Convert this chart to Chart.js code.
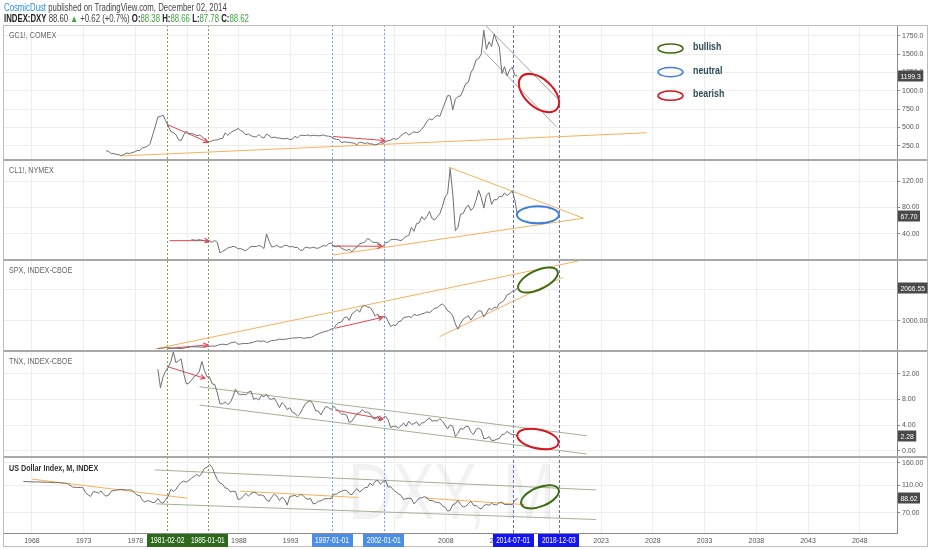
<!DOCTYPE html>
<html>
<head>
<meta charset="utf-8">
<script src="https://cdn.jsdelivr.net/npm/chart.js@4.4.1/dist/chart.umd.min.js"></script>
<style>
  body { margin: 0; background: #fff; }
  #wrap { position: relative; width: 932px; height: 550px; overflow: hidden; }
  #chart { position: absolute; left: 0; top: 0; }
  .hdr { position: absolute; left: 4px; font-family: 'Liberation Sans', Arial, sans-serif;
         font-size: 10px; color: #444; white-space: nowrap; line-height: 11px;
         transform: scaleX(0.78); transform-origin: 0 0; }
  .hdr b { color: #222; }
  .g { color: #3fa53f; }
</style>
</head>
<body>
<div id="wrap">
  <canvas id="chart" width="932" height="550"></canvas>
  <div class="hdr" style="top:2px"><span style="color:#2b8fd8">CosmicDust</span> published on TradingView.com, December 02, 2014</div>
  <div class="hdr" style="top:13px"><b>INDEX:DXY</b> 88.60 <span class="g">&#9650;</span> +0.62 (+0.7%) <b>O:</b><span class="g">88.38</span> <b>H:</b><span class="g">88.66</span> <b>L:</b><span class="g">87.78</span> <b>C:</b><span class="g">88.62</span></div>
</div>
<script>
const FONT = "'Liberation Sans',Arial,sans-serif";

// x axis tick years
const yearTicks = [1968, 1973, 1978, 1983, 1988, 1993, 1998, 2003, 2008, 2013, 2018, 2023, 2028, 2033, 2038, 2043, 2048];

// y tick values per pane
const goldTicks = [250, 500, 750, 1000, 1250, 1500, 1750];
const oilTicks = [40, 80, 120];
const spxTicks = [1000, 2000];
const tnxTicks = [0, 4, 8, 12];
const dxyTicks = [70, 110, 160];

// quarterly closes, first value at the given year (quarter end)
const goldStart = 1975.17;
const goldQ = [180, 168, 142, 140, 131, 124, 112, 134, 148, 142, 154, 165, 181, 184, 218, 226,
  241, 278, 397, 512, 640, 650, 666, 590, 520, 440, 428, 398, 330, 318, 397, 450,
  414, 416, 405, 385, 394, 375, 343, 309, 300, 317, 326, 327, 345, 346, 424, 391,
  421, 448, 459, 484, 457, 437, 396, 410, 384, 373, 367, 401, 368, 352, 408, 386,
  356, 367, 354, 353, 344, 343, 349, 333, 337, 378, 355, 391, 390, 388, 395, 383,
  391, 387, 384, 387, 396, 382, 379, 369, 348, 334, 332, 290, 301, 296, 294, 288,
  280, 262, 299, 290, 279, 288, 273, 272, 258, 270, 293, 279, 302, 318, 324, 348,
  336, 346, 388, 417, 427, 395, 416, 438, 428, 437, 473, 518, 582, 616, 599, 636,
  663, 651, 743, 838, 933, 930, 740, 884, 922, 927, 1008, 1097, 1115, 1245, 1308, 1421,
  1439, 1502, 1825, 1566, 1668, 1604, 1776, 1675, 1596, 1234, 1328, 1202, 1284, 1322, 1210, 1199.3];

const oilStart = 1983.42;
const oilQ = [31.0, 30.0, 29.8, 30.8, 29.9, 29.5, 26.5, 28.0, 27.0, 29.5, 26.3,
  10.4, 12.8, 14.9, 17.9, 18.8, 20.4, 19.5, 16.7, 17.0, 15.2, 13.7, 17.2,
  20.3, 20.3, 20.1, 21.8, 20.4, 17.1, 39.5, 28.4, 19.6, 20.1, 22.2, 19.1,
  19.3, 22.0, 21.7, 19.5, 20.3, 18.7, 18.8, 14.2, 14.7, 19.4, 18.4, 17.8,
  19.2, 17.9, 17.5, 19.6, 21.5, 20.9, 24.4, 25.9, 20.4, 19.8, 21.2, 17.6,
  15.6, 14.2, 16.1, 12.1, 16.8, 19.3, 24.5, 25.6, 26.9, 32.5, 30.8, 26.8,
  26.3, 26.2, 23.4, 19.8, 26.3, 26.9, 30.5, 31.2, 31.0, 30.2, 29.2, 32.5,
  35.8, 37.0, 49.6, 43.5, 55.4, 56.5, 66.2, 61.0, 66.6, 74.0, 62.9, 61.0,
  65.9, 70.7, 81.7, 96.0, 101.6, 140.0, 100.6, 44.6, 49.7, 69.9, 70.6, 79.4,
  83.8, 75.6, 79.9, 91.4, 106.7, 95.4, 79.2, 98.8, 103.0, 84.9, 92.2, 91.8,
  97.2, 96.6, 102.3, 98.4, 101.6, 105.4, 91.2, 67.70];

const spxStart = 1980.17;
const spxQ = [102, 114, 125, 136, 136, 131, 116, 122, 112, 110, 120, 140, 153, 168, 166, 165,
  159, 153, 166, 167, 181, 191, 182, 211, 238, 251, 231, 242, 291, 304, 321, 247,
  258, 273, 271, 277, 294, 317, 349, 353, 339, 358, 306, 330, 375, 371, 387, 417,
  403, 408, 417, 435, 451, 450, 458, 466, 445, 444, 462, 459, 500, 544, 584, 615,
  645, 670, 687, 740, 757, 885, 947, 970, 1101, 1133, 1017, 1229, 1286, 1372, 1282, 1469,
  1498, 1454, 1436, 1320, 1160, 1224, 1040, 1148, 1147, 989, 815, 879, 848, 975, 995, 1111,
  1126, 1140, 1114, 1211, 1180, 1191, 1228, 1248, 1294, 1270, 1335, 1418, 1420, 1503, 1549, 1468,
  1322, 1280, 1166, 903, 735, 919, 1057, 1115, 1169, 1030, 1141, 1257, 1325, 1320, 1131, 1257,
  1408, 1362, 1440, 1426, 1569, 1606, 1681, 1848, 1872, 1960, 1972, 2066.55];

const tnxStart = 1980.17;
const tnxQ = [12.7, 9.8, 11.5, 12.4, 13.0, 13.9, 15.4, 13.7, 14.0, 14.3, 12.0, 10.4,
  10.5, 11.0, 11.5, 11.8, 12.3, 13.9, 12.5, 11.5, 11.5, 10.4, 10.3, 9.0,
  7.3, 7.3, 7.6, 7.2, 7.5, 8.4, 9.6, 8.9, 8.7, 8.8, 8.7, 9.1, 9.3, 8.0, 8.2, 7.9,
  8.6, 8.4, 8.8, 8.1, 8.0, 8.2, 7.5, 6.7, 7.5, 7.1, 6.4, 6.7, 6.0, 5.8, 5.4, 5.8,
  6.6, 7.3, 7.6, 7.8, 7.2, 6.2, 6.2, 5.6, 6.3, 6.9, 6.7, 6.4, 6.9, 6.5, 6.1, 5.7,
  5.7, 5.5, 4.4, 4.6, 5.2, 5.8, 5.9, 6.4, 6.0, 6.0, 5.8, 5.1, 4.9, 5.4, 4.6, 5.1,
  5.4, 4.8, 3.6, 3.8, 3.8, 3.5, 3.9, 4.3, 3.8, 4.6, 4.1, 4.2, 4.5, 3.9, 4.3, 4.4,
  4.8, 5.1, 4.6, 4.7, 4.6, 5.0, 4.6, 4.0, 3.4, 4.0, 3.8, 2.2, 2.7, 3.5, 3.3, 3.8,
  3.8, 2.9, 2.5, 3.3, 3.5, 3.2, 1.9, 1.9, 2.2, 1.6, 1.6, 1.8, 1.9, 2.5, 2.6, 3.0,
  2.7, 2.5, 2.5, 2.28];

const dxyStart = 1967.17;
const dxyQ = [117.0, 117.2, 116.8, 116.6, 116.5, 116.3, 116.4, 116.0, 115.8, 116.0, 115.6, 115.3,
  115.0, 115.2, 114.8, 114.5, 114.0, 113.2, 110.5, 107.0, 106.5, 106.0, 106.5, 106.0,
  98.0, 94.0, 91.5, 99.0, 98.5, 96.8, 100.2, 95.0, 92.0, 93.5, 100.0, 101.0,
  101.5, 102.5, 103.0, 102.4, 101.8, 102.2, 101.5, 97.0, 93.5, 93.0, 86.0, 83.5,
  85.5, 84.6, 82.6, 83.4, 88.5, 83.5, 81.8, 86.5, 92.0, 103.0, 99.5, 103.0,
  110.0, 115.5, 118.0, 116.0, 119.5, 123.6, 127.3, 131.8, 127.7, 134.6, 145.6, 148.6,
  155.0, 148.4, 132.5, 120.8, 114.1, 112.1, 105.5, 104.4, 98.5, 99.9, 99.2, 87.0,
  88.1, 91.5, 96.6, 92.0, 96.0, 98.0, 97.0, 93.2, 94.0, 92.3, 86.3, 84.3,
  90.3, 95.4, 92.0, 85.6, 90.5, 87.0, 79.3, 91.6, 92.2, 93.3, 90.6, 94.7,
  93.3, 89.5, 87.4, 88.7, 81.1, 81.5, 84.5, 85.0, 87.5, 88.3, 88.3, 88.7,
  95.0, 94.8, 98.0, 99.6, 101.6, 101.1, 95.5, 94.2, 100.0, 104.2, 98.8, 101.9,
  105.9, 106.3, 114.3, 109.6, 117.6, 119.6, 112.0, 116.8, 119.5, 106.9, 107.6, 102.0,
  98.9, 95.5, 93.1, 86.9, 88.4, 88.8, 88.6, 80.9, 84.6, 89.1, 89.5, 91.2,
  89.9, 85.5, 85.7, 83.7, 82.9, 82.3, 78.4, 76.7, 71.8, 72.8, 79.9, 81.3,
  85.9, 80.2, 76.7, 77.9, 81.0, 84.8, 79.0, 79.0, 75.9, 74.3, 78.6, 80.2,
  79.1, 81.6, 79.9, 79.8, 82.9, 83.2, 80.2, 80.0, 80.1, 79.8, 86.0, 88.62];

// drawn lines: [year1, value1, year2, value2, kind]
const goldLines = [[1976.5, 108, 2027.4, 425, 'trend'], [1981.1, 536, 1985.0, 297, 'arrow'],
  [1997.1, 374, 2002.1, 319, 'arrow'], [2011.77, 1903, 2018.85, 881, 'grey'], [2011.6, 1548, 2018.7, 504, 'grey']];
const oilLines = [[1981.3, 29.2, 1985.1, 29.2, 'arrow'], [1997.1, 21, 2001.8, 20.5, 'arrow'],
  [2008.3, 142, 2021.3, 63.7, 'trend'], [1997.1, 7.2, 2021.3, 63.7, 'trend']];
const spxLines = [[1979.9, 97, 2020.8, 2935, 'trend'], [2007.4, 494, 2019.3, 2410, 'trend'],
  [1981.1, 110, 1985.0, 226, 'arrow'], [1997.3, 765, 2001.9, 1119, 'arrow']];
const tnxLines = [[1981.1, 13.09, 1984.7, 11.28, 'arrow'], [1997.3, 6.33, 2001.9, 4.93, 'arrow'],
  [1984.2, 9.96, 2021.6, 2.33, 'channel'], [1984.2, 7.11, 2021.6, -0.51, 'channel']];
const dxyLines = [[1968.0, 122, 1983.0, 89, 'trend'], [1988.1, 100, 1999.5, 90, 'trend'],
  [2006.0, 89, 2015.6, 80, 'trend'], [1979.9, 142, 2022.5, 102, 'channel'], [1980.0, 81, 2022.5, 62.5, 'channel']];

// forecast ellipses: axis, year, value, mood
const ellipses = [['yGold', 2017.0, 968, 'bearish'], ['yOil', 2016.9, 68.8, 'neutral'],
  ['ySpx', 2016.9, 2323, 'bullish'], ['yTnx', 2016.9, 1.82, 'bearish'], ['yDxy', 2017.1, 91, 'bullish']];

// marked dates
const eventLabels = ['1981-02-02', '1985-01-01', '1997-01-01', '2002-01-01', '2014-07-01', '2018-12-03'];
const eventYears = [1981.09, 1985.0, 1997.0, 2002.0, 2014.5, 2018.92];

const paneTitles = ['GC1!, COMEX', 'CL1!, NYMEX', 'SPX, INDEX-CBOE', 'TNX, INDEX-CBOE', 'US Dollar Index, M, INDEX'];
const legendMoods = ['bullish', 'neutral', 'bearish'];

// ---- styles ----
const lineStyle = {
  trend: { color: '#f6b15a', width: 1 },
  arrow: { color: '#e4454e', width: 1 },
  grey: { color: '#a2a6a2', width: 1 },
  channel: { color: '#a2b295', width: 1 }
};
const moodColor = { bullish: '#3f6c14', neutral: '#3f7fdc', bearish: '#d8141c' };
const ellipseShape = { // rx, ry, rotation in degrees
  yGold: [24, 14, 42], yOil: [21, 8.5, 0], ySpx: [21.5, 9.5, -25], yTnx: [21, 9.5, 12], yDxy: [20, 9.5, -22]
};
const eventColor = ['#7aa04e', '#7aa04e', '#6fa3ea', '#6fa3ea', '#6666e8', '#6666e8'];
const eventBox = ['#2e6a1b', '#2e6a1b', '#4a8fe4', '#4a8fe4', '#1414f0', '#1414f0'];
const eventDash = [[2, 2], [2, 2], [2, 2], [2, 2], [3, 2], [3, 2]];

function toPoints(start, vals) { return vals.map((v, i) => ({ x: start + i * 0.25, y: v })); }

// condensed text helper (the original uses a narrow face)
function narrowText(ctx, txt, x, y, font, color, sx, align) {
  ctx.save();
  ctx.font = font; ctx.fillStyle = color; ctx.textBaseline = 'middle';
  const w = ctx.measureText(txt).width * sx;
  let left = x;
  if (align === 'center') left = x - w / 2;
  ctx.translate(left, y); ctx.scale(sx, 1);
  ctx.fillText(txt, 0, 0);
  ctx.restore();
  return w;
}
function narrowWidth(ctx, txt, font, sx) {
  ctx.save(); ctx.font = font; const w = ctx.measureText(txt).width * sx; ctx.restore(); return w;
}

const seriesList = [['yGold', goldStart, goldQ], ['yOil', oilStart, oilQ], ['ySpx', spxStart, spxQ],
  ['yTnx', tnxStart, tnxQ], ['yDxy', dxyStart, dxyQ]];
const lineList = [['yGold', goldLines], ['yOil', oilLines], ['ySpx', spxLines], ['yTnx', tnxLines], ['yDxy', dxyLines]];

const datasets = [];
seriesList.forEach(([axis, start, vals]) => {
  datasets.push({ data: toPoints(start, vals), yAxisID: axis, borderColor: '#6e6e6e', borderWidth: 1,
    pointRadius: 0, tension: 0 });
});
lineList.forEach(([axis, lines]) => {
  lines.forEach(l => {
    const st = lineStyle[l[4]];
    datasets.push({ data: [{ x: l[0], y: l[1] }, { x: l[2], y: l[3] }], yAxisID: axis, borderColor: st.color,
      borderWidth: st.width, pointRadius: 0, arrow: l[4] === 'arrow' });
  });
});

function paneAxis(min, max, ticks, dec, weight, type) {
  return {
    type: type || 'linear', position: 'right', stack: 'panes', stackWeight: weight, min: min, max: max,
    afterBuildTicks: s => { s.ticks = ticks.map(v => ({ value: v })); },
    afterFit: s => { s.width = 31; },
    grid: { color: '#eeeeee', tickLength: 3, tickColor: '#888', drawTicks: true },
    border: { color: '#8a8a8a' },
    ticks: { font: { size: 7, family: FONT }, color: '#555', padding: 2, autoSkip: false,
      callback: v => Number(v).toFixed(dec) }
  };
}

const decor = {
  id: 'decor',
  beforeDatasetsDraw(chart) {
    const { ctx, chartArea: a, scales } = chart;
    const x = scales.x;
    // watermark
    const d = scales.yDxy;
    ctx.save();
    ctx.fillStyle = 'rgba(0,0,0,0.05)';
    ctx.font = '80px ' + FONT;
    ctx.textBaseline = 'alphabetic';
    ctx.translate(348, d.top + 62); ctx.scale(0.78, 1);
    ctx.fillText('DXY, M', 0, 0);
    ctx.restore();
    // vertical date lines
    eventYears.forEach((yr, i) => {
      const px = Math.round(x.getPixelForValue(yr)) + 0.5;
      ctx.save();
      ctx.strokeStyle = eventColor[i];
      ctx.setLineDash(eventDash[i]);
      ctx.lineWidth = 1;
      ctx.beginPath(); ctx.moveTo(px, a.top); ctx.lineTo(px, a.bottom); ctx.stroke();
      ctx.restore();
    });
  },
  afterDatasetsDraw(chart) {
    const { ctx, scales } = chart;
    // arrow heads
    chart.data.datasets.forEach((ds, i) => {
      if (!ds.arrow) return;
      const pts = chart.getDatasetMeta(i).data;
      const p = pts[0], q = pts[1];
      const ang = Math.atan2(q.y - p.y, q.x - p.x);
      ctx.save();
      ctx.strokeStyle = ds.borderColor; ctx.lineWidth = 1.2;
      ctx.beginPath();
      ctx.moveTo(q.x - 5 * Math.cos(ang - 0.5), q.y - 5 * Math.sin(ang - 0.5));
      ctx.lineTo(q.x, q.y);
      ctx.lineTo(q.x - 5 * Math.cos(ang + 0.5), q.y - 5 * Math.sin(ang + 0.5));
      ctx.stroke();
      ctx.restore();
    });
    // ellipses
    ellipses.forEach(([axis, yr, val, mood]) => {
      const cx = scales.x.getPixelForValue(yr), cy = scales[axis].getPixelForValue(val);
      const [rx, ry, rot] = ellipseShape[axis];
      ctx.save();
      ctx.strokeStyle = moodColor[mood]; ctx.lineWidth = 2;
      ctx.beginPath(); ctx.ellipse(cx, cy, rx, ry, rot * Math.PI / 180, 0, Math.PI * 2); ctx.stroke();
      ctx.restore();
    });
    // legend
    const g = scales.yGold;
    legendMoods.forEach((m, i) => {
      const cy = g.top + 23.5 + i * 23.6;
      ctx.save();
      ctx.strokeStyle = moodColor[m]; ctx.lineWidth = 1.5;
      ctx.beginPath(); ctx.ellipse(670.5, cy, 12.5, 4.6, 0, 0, Math.PI * 2); ctx.stroke();
      ctx.restore();
      narrowText(ctx, m, 693, cy - 1, 'bold 10px ' + FONT, '#2d4b58', 0.88);
    });
  },
  afterDraw(chart) {
    const { ctx, chartArea: a, scales } = chart;
    const axes = ['yGold', 'yOil', 'ySpx', 'yTnx', 'yDxy'];
    // pane titles
    axes.forEach((k, i) => {
      narrowText(ctx, paneTitles[i], 9, scales[k].top + 11, (i === 4 ? 'bold ' : '') + '9px ' + FONT,
        i === 4 ? '#333' : '#666', 0.8);
    });
    // pane separators
    ctx.save();
    ctx.strokeStyle = '#a8a8a8'; ctx.lineWidth = 2;
    axes.slice(1).forEach(k => {
      const y = Math.round(scales[k].top);
      ctx.beginPath(); ctx.moveTo(a.left, y); ctx.lineTo(a.right + 31, y); ctx.stroke();
    });
    ctx.restore();
    // frame
    ctx.save();
    ctx.strokeStyle = '#bdbdbd'; ctx.lineWidth = 1;
    ctx.strokeRect(3.5, a.top + 0.5, 924, 521);
    ctx.restore();
    // last value boxes
    seriesList.forEach(([axis, start, vals], i) => {
      const y = Math.round(scales[axis].getPixelForValue(vals[vals.length - 1]));
      const txt = vals[vals.length - 1].toFixed(i === 0 ? 1 : 2);
      const f = '8px ' + FONT;
      const w = narrowWidth(ctx, txt, f, 0.85) + 5;
      ctx.fillStyle = '#4a4a4a';
      ctx.fillRect(a.right + 1, y - 5.5, w, 11);
      narrowText(ctx, txt, a.right + 3.5, y + 0.5, f, '#fff', 0.85);
    });
    // date boxes on time axis
    eventYears.forEach((yr, i) => {
      const px = scales.x.getPixelForValue(yr);
      const f = '8.5px ' + FONT;
      const w = Math.round(narrowWidth(ctx, eventLabels[i], f, 0.78) + 7);
      ctx.fillStyle = eventBox[i];
      ctx.fillRect(Math.round(px - w / 2), a.bottom + 1, w, 13);
      narrowText(ctx, eventLabels[i], px, a.bottom + 8, f, '#fff', 0.78, 'center');
    });
  }
};

new Chart(document.getElementById('chart'), {
  type: 'line',
  data: { datasets: datasets },
  options: {
    responsive: false, animation: false, devicePixelRatio: 1,
    layout: { padding: { left: 4, top: 25, right: 4, bottom: 4 } },
    plugins: { legend: { display: false }, tooltip: { enabled: false } },
    scales: {
      x: {
        type: 'linear', min: 1965.3, max: 2051.6,
        afterBuildTicks: s => { s.ticks = yearTicks.map(v => ({ value: v })); },
        afterFit: s => { s.height = 13; },
        grid: { color: '#eeeeee', drawTicks: false },
        border: { color: '#8a8a8a' },
        ticks: { font: { size: 7, family: FONT }, color: '#555', padding: 4, maxRotation: 0, autoSkip: false,
          callback: v => String(v) }
      },
      yGold: paneAxis(53, 1898, goldTicks, 1, 135),
      yOil: paneAxis(-0.5, 153, oilTicks, 2, 100),
      ySpx: paneAxis(30, 2968, spxTicks, 2, 91),
      yTnx: paneAxis(-1.03, 15.53, tnxTicks, 2, 106.3),
      yDxy: paneAxis(50, 175, dxyTicks, 2, 75.7, 'logarithmic')
    }
  },
  plugins: [decor]
});
</script>
</body>
</html>
